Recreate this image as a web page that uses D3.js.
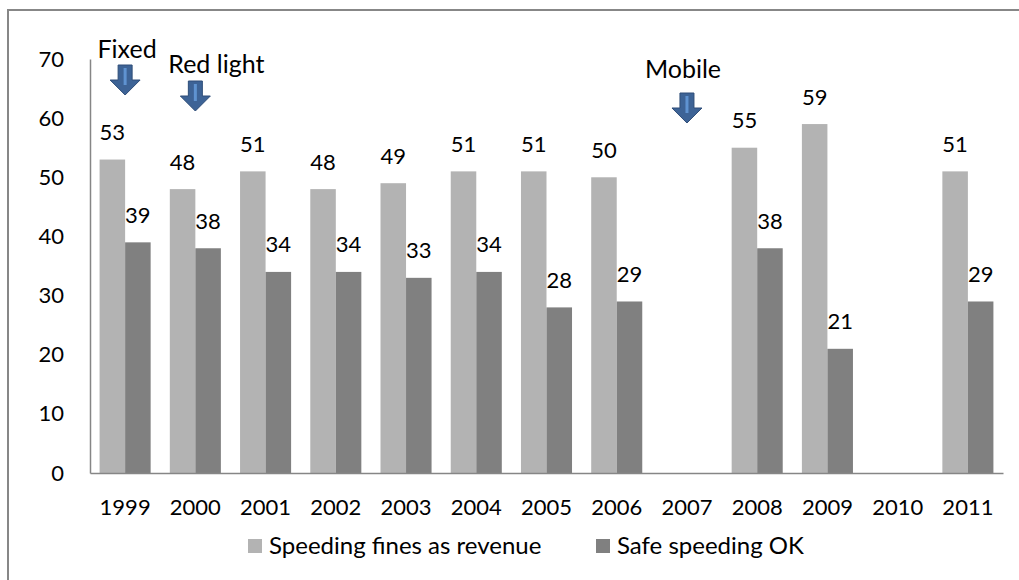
<!DOCTYPE html>
<html>
<head>
<meta charset="utf-8">
<script src="https://cdn.jsdelivr.net/npm/d3@7"></script>
<style>
  html, body { margin: 0; padding: 0; background: #fff; }
  svg { display: block; font-family: Lato, "Open Sans", sans-serif; }
</style>
</head>
<body>
<svg id="chart" width="1019" height="580"></svg>
<script>
// ---- data ----
const years = ["1999","2000","2001","2002","2003","2004","2005","2006","2007","2008","2009","2010","2011"];
const revenue = [53, 48, 51, 48, 49, 51, 51, 50, null, 55, 59, null, 51];
const safeOK  = [39, 38, 34, 34, 33, 34, 28, 29, null, 38, 21, null, 29];
const seriesNames = ["Speeding fines as revenue", "Safe speeding OK"];
const yTicks = [0, 10, 20, 30, 40, 50, 60, 70];
const annotationLabels = ["Fixed", "Red light", "Mobile"];
const annotationYears = ["1999", "2000", "2007"];

// ---- style / layout ----
const W = 1019, H = 580;
const colors = ["#b3b3b3", "#808080"];
const plot = { left: 90, right: 1003, top: 59, bottom: 473 };
const numFont = 22;      // digits
const wordFont = 25;     // annotation words
const legendFont = 24;   // legend words
// per-annotation layout tweaks (text offset from arrow centre, arrow top)
const annLayout = [
  { textDx: 2,   textBaseline: 58, arrowTop: 65 },
  { textDx: 21,  textBaseline: 73, arrowTop: 81 },
  { textDx: -4,  textBaseline: 78, arrowTop: 93 }
];

const svg = d3.select("#chart");

// outer frame (left and top edges visible; right/bottom run past the picture)
svg.append("rect")
  .attr("x", 8).attr("y", 10)
  .attr("width", W + 20).attr("height", H + 20)
  .attr("fill", "none").attr("stroke", "#878787").attr("stroke-width", 2);

const x0 = d3.scaleBand().domain(years).range([plot.left, plot.right]).paddingInner(0).paddingOuter(0);
const innerPad = 0.1365; // keeps bar pair ~51px wide inside 70px band
const x1 = d3.scaleBand().domain([0, 1])
  .range([x0.bandwidth() * innerPad, x0.bandwidth() * (1 - innerPad)]).padding(0);
const y = d3.scaleLinear().domain([0, 70]).range([plot.bottom, plot.top]);

// bars
const seriesData = [revenue, safeOK];
seriesData.forEach((vals, si) => {
  const g = svg.append("g");
  const pts = years.map((yr, i) => ({ yr, v: vals[i] })).filter(d => d.v != null);
  g.selectAll("rect").data(pts).enter().append("rect")
    .attr("x", d => x0(d.yr) + x1(si))
    .attr("width", x1.bandwidth())
    .attr("y", d => y(d.v))
    .attr("height", d => y(0) - y(d.v))
    .attr("fill", colors[si]);
  g.selectAll("text").data(pts).enter().append("text")
    .attr("x", d => x0(d.yr) + x1(si) + x1.bandwidth() / 2)
    .attr("y", d => y(d.v) - 19.5)
    .attr("text-anchor", "middle")
    .attr("font-size", numFont)
    .attr("fill", "#000")
    .text(d => d.v);
});

// y axis
const yAxis = d3.axisLeft(y).tickValues(yTicks).tickSize(0).tickPadding(26);
const gy = svg.append("g").attr("transform", `translate(${plot.left},0)`).call(yAxis);
gy.select(".domain").attr("stroke", "#868686").attr("stroke-width", 1.5);
gy.selectAll("text").attr("font-size", numFont).attr("font-family", "Lato, 'Open Sans', sans-serif").attr("fill", "#000");

// x axis
const xAxis = d3.axisBottom(x0).tickSize(0).tickPadding(26);
const gx = svg.append("g").attr("transform", `translate(0,${plot.bottom})`).call(xAxis);
gx.select(".domain").attr("stroke", "#868686").attr("stroke-width", 1.5);
gx.selectAll("text").attr("font-size", numFont).attr("font-family", "Lato, 'Open Sans', sans-serif").attr("fill", "#000");

// annotations (arrows + labels)
annotationLabels.forEach((lab, i) => {
  const cx = x0(annotationYears[i]) + x0.bandwidth() / 2;
  const L = annLayout[i];
  const t = L.arrowTop;
  svg.append("text")
    .attr("x", cx + L.textDx).attr("y", L.textBaseline)
    .attr("text-anchor", "middle")
    .attr("font-size", wordFont).attr("fill", "#000")
    .text(lab);
  const p = d3.path();
  p.moveTo(cx - 7, t); p.lineTo(cx + 7, t); p.lineTo(cx + 7, t + 15);
  p.lineTo(cx + 15, t + 15); p.lineTo(cx, t + 30); p.lineTo(cx - 15, t + 15);
  p.lineTo(cx - 7, t + 15); p.closePath();
  svg.append("path").attr("d", p.toString())
    .attr("fill", "#3d6396").attr("stroke", "#2e4d78").attr("stroke-width", 1);
  svg.append("rect")
    .attr("x", cx - 1.5).attr("y", t + 3).attr("width", 3).attr("height", 17)
    .attr("fill", "#5f93d1");
});

// legend
const legendX = [248, 596];
seriesNames.forEach((name, i) => {
  const g = svg.append("g").attr("transform", `translate(${legendX[i]},546)`);
  g.append("rect").attr("x", 0).attr("y", -7).attr("width", 14).attr("height", 14).attr("fill", colors[i]);
  g.append("text").attr("x", 21).attr("y", 0).attr("dy", "0.35em")
    .attr("font-size", legendFont).attr("fill", "#000").text(name);
});
</script>
</body>
</html>
